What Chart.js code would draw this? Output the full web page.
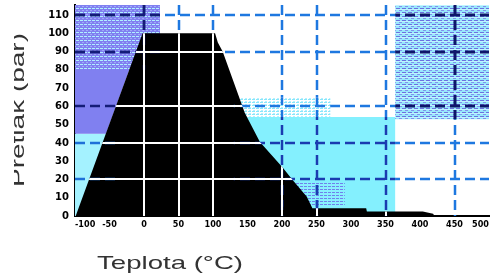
<!DOCTYPE html>
<html>
<head>
<meta charset="utf-8">
<script src="https://cdn.jsdelivr.net/npm/chart.js"></script>
<style>
    html, body { margin: 0; padding: 0; background: #fff; overflow: hidden; }
</style>
</head>
<body>
<canvas id="myChart" width="501" height="277"></canvas>
<script>
// tick labels
const tempTicks = [-100, -50, 0, 50, 100, 150, 200, 250, 300, 350, 400, 450, 500];
const pressTicks = [0, 10, 20, 30, 40, 50, 60, 70, 80, 90, 100, 110];

// the dashed grid is only drawn at these values
const tempGrid = [0, 50, 100, 200, 250, 350, 450];
const pressGrid = [20, 40, 60, 90, 110];

// regions: temperature (°C) and pressure (bar) of the corners
const mainTemp  = [-99, -2, 103, 107, 114, 146, 168, 200, 216, 236, 244, 322, 323, 404, 419, 421, -99];
const mainPress = [0, 100, 100, 95, 90, 56.5, 40.5, 27, 19.5, 10.5, 4.3, 4.2, 2.4, 2.4, 1.2, 0, 0];

const purpleTemp  = [-100, 23, 23, -2, -55, -100];
const purplePress = [115.5, 115.5, 100, 100, 45, 45];

const purpleDotsTemp  = [-100, 23, 23, -100];
const purpleDotsPress = [115.5, 115.5, 80, 80];

const leftCyanTemp  = [-100, -40, -40, -100];
const leftCyanPress = [0, 0, 45, 45];

const rightCyanTemp  = [130, 364, 364, 130];
const rightCyanPress = [0, 0, 54.2, 54.2];

const bandTemp  = [130, 270, 270, 130];
const bandPress = [54.2, 54.2, 65, 65];

const lowDotsTemp  = [200, 291, 291, 200];
const lowDotsPress = [5, 5, 18, 18];

const topRightTemp  = [364, 500, 500, 364];
const topRightPress = [53, 53, 115.5, 115.5];

function makePattern(w, h, bg, dots) {
    const c = document.createElement('canvas');
    c.width = w;
    c.height = h;
    const g = c.getContext('2d');
    g.fillStyle = bg;
    g.fillRect(0, 0, w, h);
    dots.forEach(d => {
        g.fillStyle = d[3];
        g.fillRect(d[0], d[1], d[2], 1);
    });
    return g.createPattern(c, 'repeat');
}

const purpleDots = makePattern(4, 4, '#8080f0', [[0, 0, 3, '#b0f0ff'], [2, 2, 2, '#a0a8fa']]);
const topRightDots = makePattern(6, 4, '#98e8fc', [[0, 0, 4, '#6c70e0'], [0, 1, 6, '#bff4ff'], [3, 2, 3, '#8090ee']]);
const bandDots = makePattern(4, 3, '#ffffff', [[0, 0, 3, '#88e6fa'], [1, 2, 2, '#b4f0ff']]);
const lowDots = makePattern(4, 3, '#88f0fe', [[0, 0, 3, '#7080ec']]);

const dashed = [10, 5];

// listed from bottom to top
const regions = [
    { temp: leftCyanTemp, press: leftCyanPress, color: '#a4f2ff', grid: { color: '#1e70d8', width: 2.5, dash: dashed } },
    { temp: purpleTemp, press: purplePress, color: '#8080f0', grid: { color: '#141c78', width: 2.5, dash: dashed } },
    { temp: purpleDotsTemp, press: purpleDotsPress, color: purpleDots, grid: { color: '#141c78', width: 2.5, dash: dashed } },
    { temp: rightCyanTemp, press: rightCyanPress, color: '#84f0fe', grid: { color: '#1a3cb0', width: 2.5, dash: dashed } },
    { temp: bandTemp, press: bandPress, color: bandDots, grid: { color: '#1e78e0', width: 2.5, dash: dashed } },
    { temp: lowDotsTemp, press: lowDotsPress, color: lowDots, grid: { color: '#1a3cb0', width: 2.5, dash: dashed } },
    { temp: topRightTemp, press: topRightPress, color: topRightDots, grid: { color: '#0e166a', width: 3, dash: dashed } },
    { temp: mainTemp, press: mainPress, color: '#000000', grid: { color: '#ffffff', width: 2, dash: [] } },
];

const datasets = regions.map((r, i) => ({
    data: r.temp.map((t, k) => ({ x: t, y: r.press[k] })),
    backgroundColor: r.color,
    borderColor: 'transparent',
    borderWidth: 0,
    pointRadius: 0,
    fill: 'shape',
    tension: 0,
    order: regions.length - i
}));

function gridPath(chart) {
    const { ctx, chartArea: a, scales: { x, y } } = chart;
    ctx.beginPath();
    tempGrid.forEach(t => {
        const px = Math.round(x.getPixelForValue(t));
        ctx.moveTo(px, a.top);
        ctx.lineTo(px, a.bottom);
    });
    pressGrid.forEach(p => {
        const py = Math.round(y.getPixelForValue(p));
        ctx.moveTo(a.left, py);
        ctx.lineTo(a.right, py);
    });
}

function strokeGrid(chart, style) {
    const ctx = chart.ctx;
    ctx.strokeStyle = style.color;
    ctx.lineWidth = style.width;
    ctx.setLineDash(style.dash);
    gridPath(chart);
    ctx.stroke();
}

const gridPlugin = {
    id: 'regionGrid',
    beforeDatasetsDraw(chart) {
        const ctx = chart.ctx;
        ctx.save();
        strokeGrid(chart, { color: '#1e78e0', width: 2.5, dash: dashed });
        ctx.restore();
    },
    afterDatasetsDraw(chart) {
        const { ctx, chartArea: a } = chart;
        // the grid changes colour over each coloured region
        regions.forEach((r, i) => {
            const pts = chart.getDatasetMeta(i).data;
            ctx.save();
            ctx.beginPath();
            ctx.rect(a.left, a.top, a.right - a.left, a.bottom - a.top);
            ctx.clip();
            ctx.beginPath();
            pts.forEach((p, k) => k ? ctx.lineTo(p.x, p.y) : ctx.moveTo(p.x, p.y));
            ctx.closePath();
            ctx.clip();
            strokeGrid(chart, r.grid);
            ctx.restore();
        });
    }
};

const xTitle = 'Teplota (°C)';
const yTitle = 'Přetlak (bar)';

const titlePlugin = {
    id: 'axisTitles',
    afterDraw(chart) {
        const { ctx, chartArea: a } = chart;
        ctx.save();
        ctx.font = '19px "Liberation Sans", Arial, sans-serif';
        ctx.fillStyle = '#333333';
        ctx.textBaseline = 'alphabetic';

        // x title, stretched like the original
        let w = ctx.measureText(xTitle).width;
        ctx.save();
        ctx.translate(a.left + 22, a.bottom + 53);
        ctx.scale(146 / w, 1);
        ctx.textAlign = 'left';
        ctx.fillText(xTitle, 0, 0);
        ctx.restore();

        // y title, its top is cut off in the original
        w = ctx.measureText(yTitle).width;
        ctx.save();
        ctx.beginPath();
        ctx.rect(14, 0, 40, chart.height);
        ctx.clip();
        ctx.translate(23.5, 110);
        ctx.rotate(-Math.PI / 2);
        ctx.scale(154 / w, 1);
        ctx.textAlign = 'center';
        ctx.fillText(yTitle, 0, 0);
        ctx.restore();

        ctx.restore();
    }
};

const tickFont = { family: '"DejaVu Sans Condensed", "Liberation Sans Narrow", sans-serif', size: 9, weight: 'bold' };

const config = {
    type: 'line',
    data: { datasets: datasets },
    options: {
        responsive: false,
        animation: false,
        events: [],
        layout: {
            padding: { top: 5, right: 12, left: 0, bottom: 0 }
        },
        plugins: {
            legend: { display: false },
            tooltip: { enabled: false }
        },
        scales: {
            x: {
                type: 'linear',
                min: -100,
                max: 500,
                z: 1,
                grid: { color: 'transparent', drawTicks: false },
                border: { display: true, color: '#000', width: 2 },
                ticks: { font: tickFont, color: '#000', padding: 3, align: 'inner', maxRotation: 0, autoSkip: false },
                afterBuildTicks: s => { s.ticks = tempTicks.map(v => ({ value: v })); },
                afterFit: s => { s.height = 61; s.paddingLeft = 0; s.paddingRight = 0; }
            },
            y: {
                type: 'linear',
                min: 0,
                max: 115.5,
                z: 1,
                grid: { color: 'transparent', drawTicks: false },
                border: { display: true, color: '#000', width: 2 },
                ticks: { font: { family: '"DejaVu Sans", sans-serif', size: 10, weight: 'bold' }, color: '#000', padding: 6, autoSkip: false },
                afterBuildTicks: s => { s.ticks = pressTicks.map(v => ({ value: v })); },
                afterFit: s => { s.width = 75; s.paddingTop = 0; s.paddingBottom = 0; }
            }
        }
    },
    plugins: [gridPlugin, titlePlugin]
};

const myChart = new Chart(document.getElementById('myChart'), config);
</script>
</body>
</html>
